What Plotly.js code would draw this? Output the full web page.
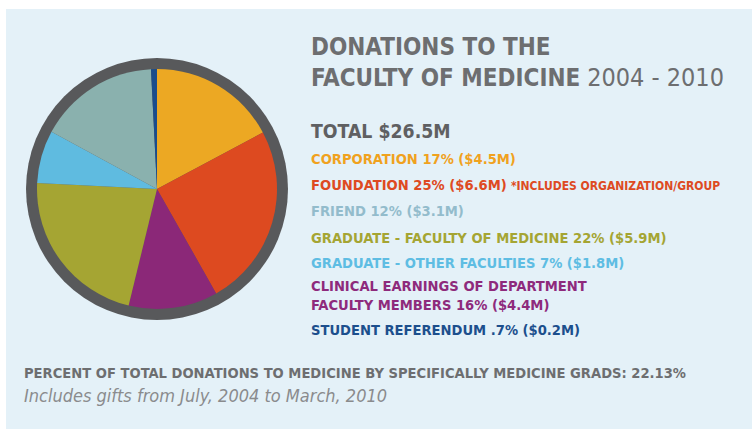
<!DOCTYPE html>
<html>
<head>
<meta charset="utf-8">
<script src="https://cdn.plot.ly/plotly-3.0.1.min.js"></script>
<style>html,body{margin:0;padding:0;background:#fff;}#chart{width:752px;height:431px;}</style>
</head>
<body>
<div id="chart"></div>
<script>
// Pie slices, in clockwise order from 12 o'clock (shares, %)
var sliceNames = ["Corporation", "Foundation", "Clinical earnings", "Graduate - Medicine", "Graduate - Other", "Friend", "Student referendum"];
var sliceValues = [17.2, 24.6, 12.0, 22.0, 7.1, 16.3, 0.8];
var sliceColors = ["#eca823", "#dd4a20", "#8b2878", "#a5a533", "#5fbbe0", "#8ab1ae", "#1a4c8c"];

// Text legend
var titleLine1 = "DONATIONS TO THE";
var titleLine2Bold = "FACULTY OF MEDICINE";
var titleYears = "2004 - 2010";
var totalText = "TOTAL $26.5M";
var legendLines = [
  "CORPORATION 17% ($4.5M)",
  "FOUNDATION 25% ($6.6M)",
  "FRIEND 12% ($3.1M)",
  "GRADUATE - FACULTY OF MEDICINE 22% ($5.9M)",
  "GRADUATE - OTHER FACULTIES 7% ($1.8M)",
  "CLINICAL EARNINGS OF DEPARTMENT<br>FACULTY MEMBERS 16% ($4.4M)",
  "STUDENT REFERENDUM .7% ($0.2M)"
];
var legendColors = ["#f0a21e", "#de4a22", "#93bccc", "#a5a533", "#5ebde3", "#8e2a7c", "#1c4f8d"];
var foundationNote = "*INCLUDES ORGANIZATION/GROUP";
var footerBold = "PERCENT OF TOTAL DONATIONS TO MEDICINE BY SPECIFICALLY MEDICINE GRADS: 22.13%";
var footerItalic = "Includes gifts from July, 2004 to March, 2010";

var W = 752, H = 431;
function px(x) { return x / W; }
function py(y) { return 1 - y / H; }
var FONT = "DejaVu Sans Condensed, sans-serif";

var traces = [
  {
    type: "pie", values: [1], labels: ["ring"], sort: false,
    marker: {colors: ["#58595b"], line: {width: 0}},
    textinfo: "none", hoverinfo: "skip", showlegend: false,
    domain: {x: [px(26), px(288)], y: [py(320), py(58)]}
  },
  {
    type: "pie", values: sliceValues, labels: sliceNames, sort: false,
    direction: "clockwise", rotation: 0,
    marker: {colors: sliceColors, line: {width: 0}},
    textinfo: "none", showlegend: false,
    domain: {x: [px(37), px(277)], y: [py(309), py(69)]}
  }
];

var ann = [];
function addText(text, x, y, size, color) {
  ann.push({text: text, xref: "paper", yref: "paper", x: px(x), y: py(y),
    xanchor: "left", yanchor: "middle", showarrow: false, align: "left",
    font: {family: FONT, size: size, color: color}});
}
addText("<b>" + titleLine1 + "</b>", 309, 47, 24, "#6d6e70");
addText("<b>" + titleLine2Bold + "</b> " + '<span style="font-size:25px">' + titleYears + "</span>", 309, 78, 24, "#6d6e70");
addText("<b>" + totalText + "</b>", 309, 131, 19.3, "#5f6062");
var ys = [158, 184, 210, 237, 262, 295, 329];
for (var i = 0; i < legendLines.length; i++) {
  var t = "<b>" + legendLines[i] + "</b>";
  if (i === 1) t += ' <span style="font-size:12px"><b>' + foundationNote + '</b></span>';
  addText(t, 309, ys[i], 14.6, legendColors[i]);
}
addText("<b>" + footerBold + "</b>", 22, 372, 14.6, "#6d6e70");
addText("<i>" + footerItalic + "</i>", 22, 395, 18, "#8a8b8d");

var layout = {
  width: W, height: H,
  margin: {l: 0, r: 0, t: 0, b: 0},
  paper_bgcolor: "#ffffff",
  showlegend: false,
  shapes: [{type: "rect", xref: "paper", yref: "paper", x0: px(6), x1: 1, y0: py(429), y1: py(9),
    fillcolor: "#e4f1f8", line: {width: 0}, layer: "below"}],
  annotations: ann
};
Plotly.newPlot("chart", traces, layout, {displayModeBar: false, staticPlot: true});
</script>
</body>
</html>
